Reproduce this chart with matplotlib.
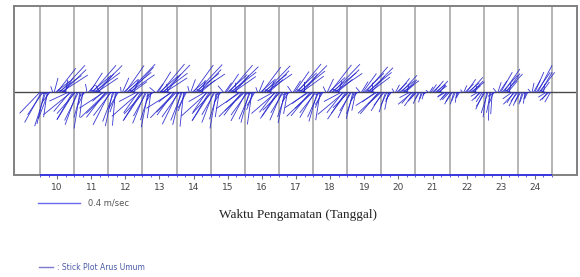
import numpy as np
import matplotlib
matplotlib.use("Agg")
import matplotlib.pyplot as plt
from matplotlib.lines import Line2D

# ---- data: hourly current, speed (cm/s) and direction (deg, math convention) ----
days = [10, 11, 12, 13, 14, 15, 16, 17, 18, 19, 20, 21, 22, 23, 24]
speed = [
    [28, 33, 26, 31, 34, 24, 27, 12, 9, 6, 14, 17, 29, 27, 35, 30, 31, 16, 12, 9, 20, 24, 34, 30],
    [31, 27, 33, 30, 35, 25, 24, 13, 7, 8, 9, 22, 25, 34, 31, 36, 24, 23, 8, 10, 13, 28, 30, 35],
    [29, 35, 28, 33, 30, 32, 20, 18, 10, 5, 15, 18, 31, 30, 37, 29, 32, 17, 13, 6, 19, 24, 35, 31],
    [33, 28, 32, 26, 34, 28, 25, 11, 8, 7, 10, 23, 24, 35, 30, 36, 25, 22, 8, 9, 15, 29, 27, 34],
    [27, 34, 29, 32, 29, 33, 19, 17, 11, 6, 13, 16, 32, 29, 36, 31, 30, 18, 12, 7, 18, 23, 34, 32],
    [32, 28, 31, 25, 35, 27, 24, 12, 7, 8, 11, 21, 25, 34, 31, 35, 26, 21, 9, 8, 16, 28, 28, 33],
    [26, 31, 27, 30, 28, 31, 18, 15, 10, 5, 12, 19, 30, 28, 35, 30, 29, 18, 11, 7, 17, 24, 31, 30],
    [28, 24, 29, 23, 30, 25, 21, 11, 8, 7, 13, 24, 27, 35, 32, 36, 26, 22, 10, 9, 18, 27, 29, 33],
    [23, 28, 25, 29, 26, 27, 16, 14, 9, 6, 14, 21, 33, 30, 37, 32, 31, 19, 11, 8, 19, 25, 33, 31],
    [25, 21, 27, 21, 26, 22, 18, 10, 6, 6, 12, 22, 26, 32, 30, 33, 24, 20, 9, 7, 16, 24, 27, 29],
    [17, 21, 16, 20, 14, 17, 10, 9, 5, 4, 8, 13, 17, 18, 22, 19, 17, 11, 7, 5, 11, 14, 18, 16],
    [11, 9, 12, 8, 10, 7, 7, 4, 4, 3, 6, 9, 10, 14, 12, 15, 10, 9, 5, 4, 7, 9, 8, 11],
    [10, 13, 11, 12, 9, 10, 6, 6, 4, 3, 7, 11, 15, 14, 19, 16, 15, 9, 6, 4, 8, 8, 12, 11],
    [18, 16, 24, 21, 27, 20, 21, 11, 8, 5, 10, 13, 22, 22, 27, 24, 22, 14, 9, 6, 11, 12, 16, 15],
    [11, 14, 11, 12, 10, 11, 7, 7, 5, 4, 9, 13, 21, 23, 29, 24, 22, 12, 8, 5, 9, 9, 12, 11],
]
direction = [
    [226, 241, 236, 257, 252, 262, 249, 232, 190, 110, 75, 38, 52, 36, 47, 33, 44, 58, 80, 165, 205, 230, 219, 240],
    [238, 229, 250, 244, 261, 254, 263, 245, 215, 100, 48, 57, 40, 49, 37, 45, 34, 50, 120, 170, 222, 213, 233, 224],
    [224, 243, 233, 258, 249, 265, 251, 240, 180, 95, 66, 42, 55, 39, 46, 35, 48, 36, 70, 160, 208, 235, 221, 238],
    [236, 228, 248, 241, 259, 252, 262, 236, 210, 140, 52, 58, 41, 50, 37, 46, 33, 52, 100, 175, 219, 212, 234, 226],
    [225, 244, 235, 256, 248, 264, 250, 242, 185, 105, 70, 40, 54, 38, 47, 34, 46, 40, 75, 158, 210, 236, 222, 239],
    [237, 227, 249, 240, 260, 253, 261, 238, 205, 130, 55, 56, 42, 49, 38, 44, 35, 50, 95, 168, 218, 214, 232, 225],
    [223, 242, 234, 255, 247, 262, 249, 240, 190, 110, 68, 41, 53, 37, 46, 35, 45, 42, 72, 160, 209, 233, 221, 237],
    [235, 226, 247, 239, 258, 251, 260, 236, 200, 125, 57, 55, 43, 50, 39, 45, 36, 51, 90, 165, 217, 213, 231, 224],
    [222, 240, 232, 254, 246, 261, 248, 238, 195, 115, 65, 42, 52, 38, 46, 34, 44, 40, 74, 158, 208, 232, 220, 236],
    [233, 225, 245, 238, 256, 250, 258, 234, 205, 130, 58, 54, 44, 49, 39, 45, 37, 50, 92, 162, 216, 212, 230, 224],
    [222, 238, 232, 252, 245, 258, 246, 235, 195, 120, 62, 44, 51, 38, 47, 35, 44, 42, 75, 160, 208, 230, 220, 235],
    [232, 225, 246, 238, 256, 248, 255, 232, 205, 140, 58, 55, 43, 50, 37, 45, 36, 50, 90, 165, 215, 212, 230, 224],
    [226, 242, 236, 254, 248, 262, 249, 240, 190, 125, 66, 45, 55, 40, 48, 37, 46, 44, 76, 160, 210, 234, 223, 238],
    [245, 238, 262, 252, 268, 258, 266, 248, 210, 130, 72, 56, 60, 48, 55, 46, 54, 50, 80, 160, 215, 238, 226, 242],
    [232, 246, 240, 255, 250, 262, 250, 244, 195, 130, 78, 60, 66, 55, 62, 52, 60, 54, 80, 160, 212, 232, 222, 240],
]
tick_labels = [str(d) for d in days]
key_speed = 0.4  # m/s

# ---- derived ----
hours = np.arange(24)
t = np.array([[d + h / 24.0 for h in hours] for d in days]).ravel()
spd = np.array(speed, dtype=float).ravel() / 100.0
ang = np.deg2rad(np.array(direction, dtype=float).ravel())
u = spd * np.cos(ang)
v = spd * np.sin(ang)

W, H = 580, 277
DPI = 100
inch_per_ms = 0.42 / 0.4  # stick length (inches) per m/s

fig = plt.figure(figsize=(W / DPI, H / DPI), dpi=DPI)
ax = fig.add_axes([14 / W, 1 - 175 / H, (577 - 14) / W, (175 - 6) / H])
ax.set_xlim(9.238, 25.733)
ax.set_ylim(-0.98, 1.02)

# vertical day grid
for d in days + [days[-1] + 1]:
    ax.axvline(d, color="#a0a0a0", lw=1.1, zorder=1)
ax.axhline(0, color="#4a4a4a", lw=1.0, zorder=2)

q = ax.quiver(t, np.zeros_like(t), u, v, angles="uv", scale_units="inches",
              scale=1.0 / inch_per_ms, pivot="tail", headwidth=1, headlength=0,
              headaxislength=0, width=0.0015, color="#2424cc", alpha=0.9, zorder=3)

for s in ax.spines.values():
    s.set_color("#808080")
    s.set_linewidth(1.4)

# blue time base line
ax.hlines(ax.get_ylim()[0], days[0], days[-1] + 1, color="#3a3ae0", lw=1.4,
          clip_on=False, zorder=4)

ax.set_yticks([])
ax.set_xticks([d + 0.5 for d in days])
ax.set_xticklabels(tick_labels, fontsize=6.5, color="#444444", family="DejaVu Sans")
ax.set_xticks(np.arange(days[0], days[-1] + 1.0001, 0.25), minor=True)
ax.tick_params(axis="x", which="major", length=3, color="#707070", pad=3)
ax.tick_params(axis="x", which="minor", length=1.5, color="#4040e0")

fig.text(298 / W, 1 - 215 / H, "Waktu Pengamatan (Tanggal)", ha="center", va="center",
         fontsize=9.5, family="Liberation Serif", color="#222222")

# scale key: 0.4 m/s
key_len = key_speed * inch_per_ms * DPI / W  # in figure fraction
kx0, ky = 38 / W, 1 - 203 / H
fig.add_artist(Line2D([kx0, kx0 + key_len], [ky, ky], transform=fig.transFigure,
                      color="#6a6aee", lw=1.0))
fig.text(kx0 + key_len + 8 / W, ky, "0.4 m/sec", ha="left", va="center",
         fontsize=6, color="#555555")

fig.legend(handles=[Line2D([], [], color="#7a7ad0", lw=1.0)],
           labels=[": Stick Plot Arus Umum"], loc="center left",
           bbox_to_anchor=(32 / W, 1 - 267 / H), frameon=False, fontsize=5.5,
           handlelength=1.8, handletextpad=0.6, labelcolor="#4a5aa8")

fig.savefig("out.png", dpi=DPI)
